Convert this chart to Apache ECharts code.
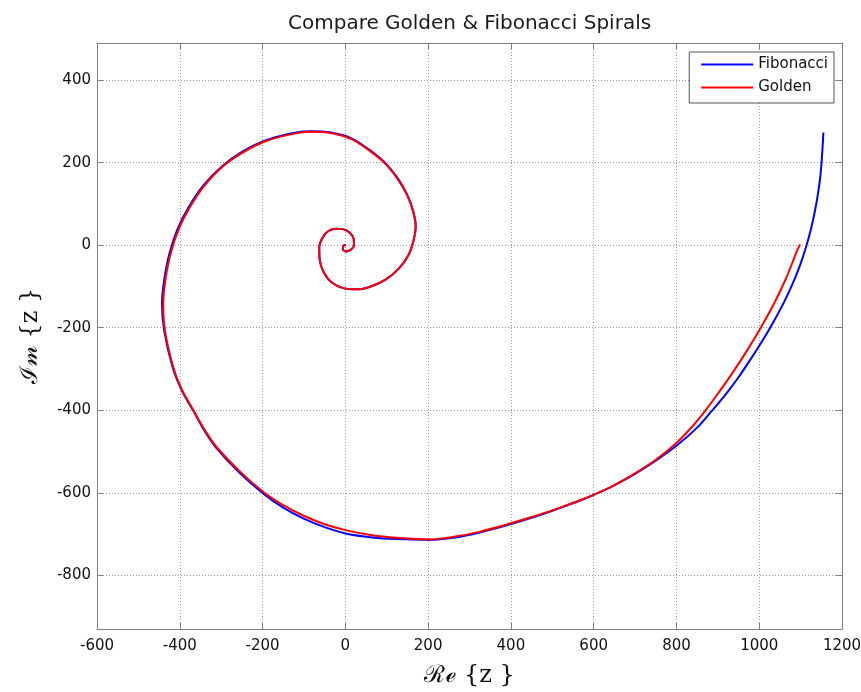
<!DOCTYPE html>
<html>
<head>
<meta charset="utf-8">
<script src="https://cdn.jsdelivr.net/npm/echarts@6/dist/echarts.min.js"></script>
<style>
  html, body { margin: 0; padding: 0; background: #fff; }
  #main { width: 861px; height: 692px; }
</style>
</head>
<body>
<div id="main"></div>
<script>
// points, centre of the spiral outwards
var golden = [
  [1, 1], [-5, -2], [-6, -10], [2, -15], [13, -11], [21, -1], [20, 16], [10, 31],
  [-6, 39], [-22, 40], [-40, 35], [-54, 20], [-63, -5], [-62, -35], [-52, -66],
  [-32, -91], [-5, -104], [28, -107], [62, -100], [98, -83], [128, -58], [152, -25],
  [165, 12], [170, 45], [164, 82], [150, 120], [128, 158], [97, 197], [60, 228],
  [15, 257], [-35, 272], [-85, 275], [-135, 268], [-198, 250], [-250, 223],
  [-297, 190], [-340, 145], [-375, 93], [-402, 40], [-422, -20], [-434, -80],
  [-440, -140], [-436, -205], [-416, -295], [-395, -350], [-367, -400], [-340, -447],
  [-311, -489], [-255, -548], [-198, -598], [-150, -630], [-102, -655], [-50, -676],
  [3, -691], [65, -703], [124, -709], [204, -713], [265, -706], [325, -694],
  [386, -678], [446, -660], [507, -640], [567, -618], [611, -600], [647, -583],
  [700, -553], [750, -520], [800, -479], [835, -443], [868, -403], [900, -360],
  [935, -310], [970, -256], [1003, -201], [1035, -143], [1065, -80], [1083, -35],
  [1092, -12], [1099, 2]
];
var fibonacci = [
  [1, 1], [-5, -2], [-6, -10], [2, -15], [13, -11], [21, -1], [20, 16], [10, 31],
  [-6, 39], [-22, 40], [-40, 35], [-54, 20], [-63, -5], [-62, -35], [-52, -66],
  [-32, -91], [-5, -104], [28, -107], [62, -100], [98, -83], [128, -58], [152, -25],
  [165, 12], [170, 45], [164, 82], [150, 121], [128, 160], [97, 199], [60, 230],
  [15, 259], [-35, 273], [-85, 276], [-135, 270], [-198, 252], [-250, 226],
  [-297, 192], [-342, 146], [-378, 93], [-405, 40], [-425, -20], [-437, -80],
  [-443, -140], [-438, -205], [-417, -297], [-395, -352], [-367, -402], [-340, -450],
  [-311, -492], [-255, -552], [-198, -602], [-150, -636], [-102, -662], [-50, -683],
  [3, -699], [65, -708], [124, -712], [204, -714], [265, -708], [325, -696],
  [386, -680], [446, -662], [507, -641], [567, -619], [611, -600], [647, -583],
  [700, -554], [750, -522], [800, -486], [850, -442], [885, -402], [920, -360],
  [950, -320], [980, -275], [1010, -228], [1035, -185], [1060, -138], [1080, -95],
  [1098, -50], [1112, -8], [1124, 35], [1134, 80], [1142, 125], [1148, 170],
  [1152, 220], [1155, 273]
];
var yTicks = [-800, -600, -400, -200, 0, 200, 400];

var chart = echarts.init(document.getElementById("main"));
var font = "'DejaVu Sans', sans-serif";
var frame = "#7f7f7f";
var grid = { type: [1, 2], color: "#9a9a9a", width: 1 };

var option = {
  animation: false,
  backgroundColor: "#fff",
  title: {
    text: "Compare Golden & Fibonacci Spirals",
    left: 283,
    top: 9,
    textStyle: { fontFamily: font, fontSize: 20, fontWeight: "normal", color: "#1a1a1a" }
  },
  legend: {
    data: ["Fibonacci", "Golden"],
    orient: "vertical",
    right: 27,
    top: 52,
    icon: "rect",
    itemWidth: 52,
    itemHeight: 2,
    itemGap: 8,
    padding: [5, 6, 8, 12],
    backgroundColor: "#fff",
    borderColor: "#555",
    borderWidth: 1,
    borderRadius: 0,
    textStyle: { fontFamily: font, fontSize: 15, color: "#111" }
  },
  grid: { left: 97, top: 43, right: 19, bottom: 63, outerBoundsMode: "none" },
  xAxis: [
    {
      type: "value",
      min: -600,
      max: 1200,
      interval: 200,
      name: "ℛℯ {z }",
      nameLocation: "middle",
      nameGap: 35,
      nameTextStyle: { fontFamily: "'DejaVu Serif', serif", fontSize: 24, color: "#111" },
      axisLine: { show: true, onZero: false, lineStyle: { color: frame, width: 1 } },
      axisTick: { show: true, inside: true, length: 6, lineStyle: { color: frame } },
      axisLabel: {
        fontFamily: font, fontSize: 15, color: "#111", margin: 10,
        formatter: function (v) { return String(v); }
      },
      splitLine: { show: true, lineStyle: grid }
    },
    {
      type: "value",
      position: "top",
      min: -600,
      max: 1200,
      interval: 200,
      axisLine: { show: true, onZero: false, lineStyle: { color: frame, width: 1 } },
      axisTick: { show: true, inside: true, length: 6, lineStyle: { color: frame } },
      axisLabel: { show: false },
      splitLine: { show: false }
    }
  ],
  yAxis: [
    {
      type: "value",
      min: -930,
      max: 490,
      name: "ℐ𝓂 {z }",
      nameLocation: "middle",
      nameGap: 54,
      nameTextStyle: { fontFamily: "'DejaVu Serif', serif", fontSize: 24, color: "#111" },
      axisLine: { show: true, onZero: false, lineStyle: { color: frame, width: 1 } },
      axisTick: { show: true, inside: true, length: 6, lineStyle: { color: frame }, customValues: yTicks },
      axisLabel: { fontFamily: font, fontSize: 15, color: "#111", margin: 6, customValues: yTicks },
      splitLine: { show: true, lineStyle: grid }
    },
    {
      type: "value",
      position: "right",
      min: -930,
      max: 490,
      axisLine: { show: true, onZero: false, lineStyle: { color: frame, width: 1 } },
      axisTick: { show: true, inside: true, length: 6, lineStyle: { color: frame }, customValues: yTicks },
      axisLabel: { show: false, customValues: yTicks },
      splitLine: { show: false }
    }
  ],
  series: [
    {
      name: "Fibonacci",
      type: "line",
      data: fibonacci,
      smooth: 0.3,
      symbol: "none",
      lineStyle: { color: "#0000ff", width: 2 },
      itemStyle: { color: "#0000ff" }
    },
    {
      name: "Golden",
      type: "line",
      data: golden,
      smooth: 0.3,
      symbol: "none",
      lineStyle: { color: "#ff0000", width: 2 },
      itemStyle: { color: "#ff0000" }
    }
  ]
};
chart.setOption(option);
</script>
</body>
</html>
